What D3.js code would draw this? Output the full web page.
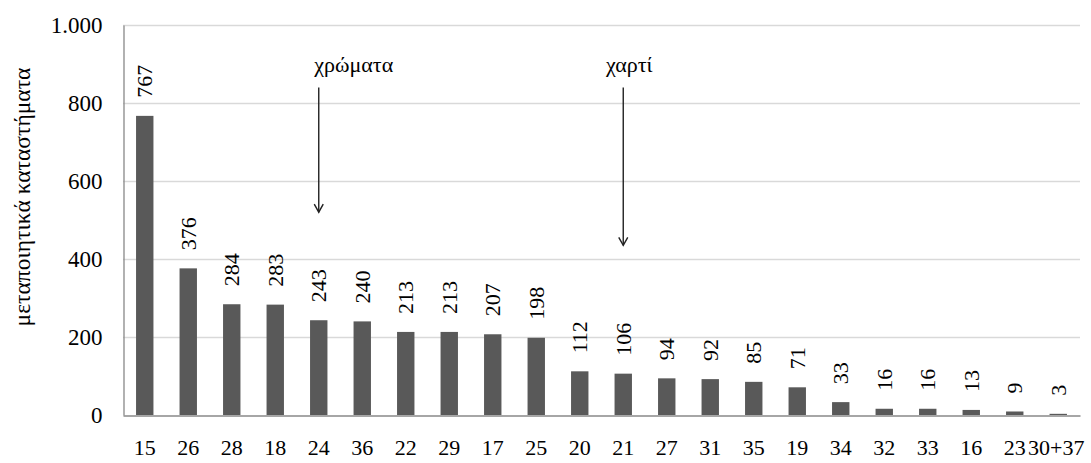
<!DOCTYPE html>
<html>
<head>
<meta charset="utf-8">
<script src="https://cdn.jsdelivr.net/npm/d3@7"></script>
<style>
  html, body { margin: 0; padding: 0; background: #fff; }
  svg { display: block; }
  text { font-family: "Liberation Serif", "Times New Roman", "DejaVu Serif", serif; fill: #000; }
</style>
</head>
<body>
<svg id="chart" width="1091" height="463"></svg>
<script>
// Manufacturing establishments per industry code
const categories = ["15", "26", "28", "18", "24", "36", "22", "29", "17", "25", "20",
                    "21", "27", "31", "35", "19", "34", "32", "33", "16", "23", "30+37"];
const values = [767, 376, 284, 283, 243, 240, 213, 213, 207, 198, 112,
                106, 94, 92, 85, 71, 33, 16, 16, 13, 9, 3];
const yTicks = [0, 200, 400, 600, 800, 1000];
const yTitle = "μεταποιητικά καταστήματα";
const noteLabels = ["χρώματα", "χαρτί"];
const noteCategories = ["24", "21"];

const svg = d3.select("#chart");
const plotLeft = 123, plotRight = 1080, plotTop = 25, plotBottom = 415;
const fontSize = 22;

const x = d3.scaleBand().domain(categories).range([plotLeft, plotRight]).paddingInner(0.6).paddingOuter(0.3);
const y = d3.scaleLinear().domain([0, 1000]).range([plotBottom, plotTop]);

const fmt = d3.formatLocale({ decimal: ",", thousands: ".", grouping: [3], currency: ["", "€"] }).format(",d");

// horizontal gridlines
svg.append("g")
  .selectAll("line")
  .data(yTicks.filter(d => d > 0))
  .join("line")
  .attr("x1", plotLeft).attr("x2", plotRight)
  .attr("y1", d => y(d) + 0.5).attr("y2", d => y(d) + 0.5)
  .attr("stroke", "#d9d9d9").attr("stroke-width", 1.3);

// y axis
const yAxis = svg.append("g")
  .attr("transform", `translate(${plotLeft + 0.5},0)`)
  .call(d3.axisLeft(y).tickValues(yTicks).tickSize(0).tickPadding(21).tickFormat(fmt));
yAxis.select(".domain").attr("stroke", "#888").attr("stroke-width", 1.3);
yAxis.selectAll("text").attr("font-size", 23).attr("fill", "#000");

// bars
svg.append("g")
  .selectAll("rect")
  .data(values)
  .join("rect")
  .attr("x", (d, i) => x(categories[i]))
  .attr("width", x.bandwidth())
  .attr("y", d => y(d))
  .attr("height", d => y(0) - y(d))
  .attr("fill", "#595959");

// x axis
const xAxis = svg.append("g")
  .attr("transform", `translate(0,${plotBottom + 0.5})`)
  .call(d3.axisBottom(x).tickSize(0).tickPadding(24));
xAxis.select(".domain").attr("stroke", "#888").attr("stroke-width", 1.3);
xAxis.selectAll("text").attr("font-size", fontSize).attr("fill", "#000");
// the wide last label sits flush against its neighbour
xAxis.selectAll(".tick").filter(d => d === categories[categories.length - 1])
  .select("text").attr("dx", -2);

// rotated value labels above the bars
svg.append("g")
  .selectAll("text")
  .data(values)
  .join("text")
  .attr("transform", (d, i) => `translate(${x(categories[i]) + x.bandwidth() / 2},${y(d) - 18}) rotate(-90)`)
  .attr("dy", "0.35em")
  .attr("font-size", fontSize)
  .text(d => d);

// y axis title
svg.append("text")
  .attr("transform", `translate(22,197) rotate(-90)`)
  .attr("text-anchor", "middle")
  .attr("dy", "0.32em")
  .attr("font-size", 23.5)
  .text(yTitle);

// annotation arrows
const arrowEnds = [520, 435];
const labelShift = [35, 6];
const notes = svg.append("g");
noteLabels.forEach((label, i) => {
  const cx = x(noteCategories[i]) + x.bandwidth() / 2;
  const y0 = y(840), y1 = y(arrowEnds[i]);
  notes.append("text")
    .attr("x", cx + labelShift[i]).attr("y", y(880))
    .attr("text-anchor", "middle")
    .attr("font-size", fontSize)
    .text(label);
  notes.append("line")
    .attr("x1", cx).attr("x2", cx).attr("y1", y0).attr("y2", y1)
    .attr("stroke", "#222").attr("stroke-width", 1.4);
  notes.append("path")
    .attr("d", `M${cx - 4.5},${y1 - 8}L${cx},${y1}L${cx + 4.5},${y1 - 8}`)
    .attr("fill", "none").attr("stroke", "#222").attr("stroke-width", 1.4);
});
</script>
</body>
</html>
